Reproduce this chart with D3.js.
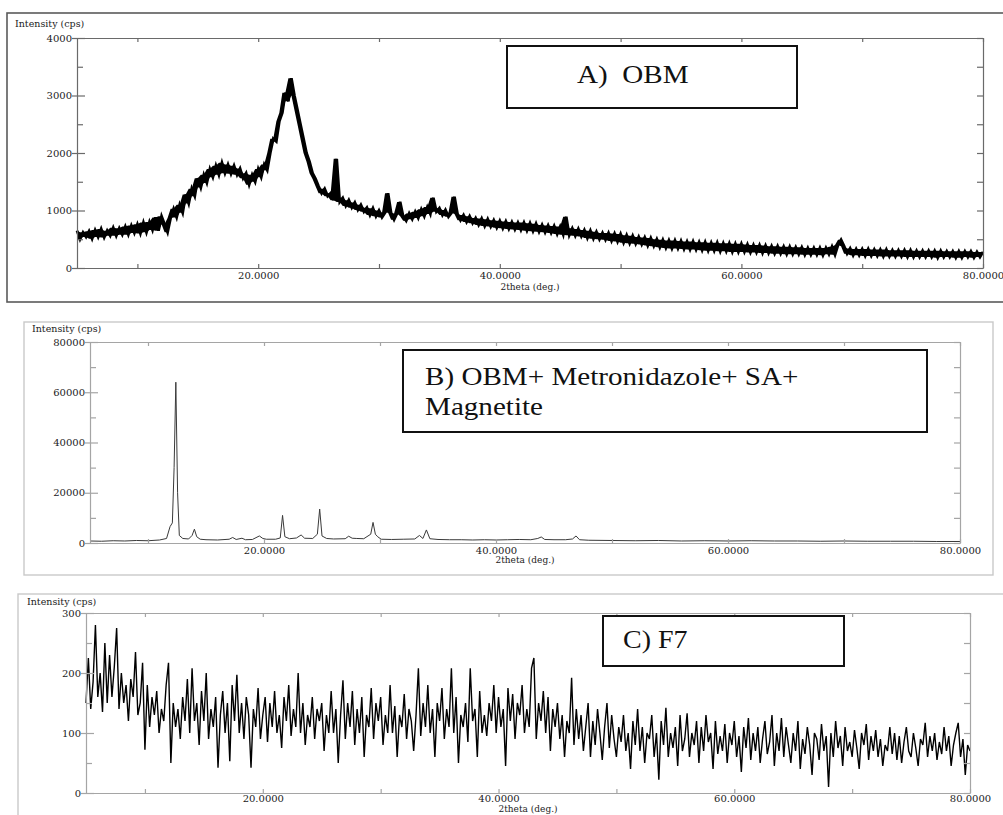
<!DOCTYPE html>
<html>
<head>
<meta charset="utf-8">
<script src="https://cdn.jsdelivr.net/npm/d3@7"></script>
<style>
  body { margin: 0; background: #fff; }
  svg { display: block; }
  text { white-space: pre; }
</style>
</head>
<body>
<svg id="chart"></svg>
<script>
const width = 1003;
const height = 815;

// shared x ticks (2theta, deg.)
const xDomain = [5, 80];
const xTicks = [10, 20, 30, 40, 50, 60, 70, 80];
const xLabeled = [20, 40, 60, 80];

// A) OBM  -- intensity sampled every 0.25 deg from 5 to 80
const obmStart = 5;
const obmStep = 0.25;
const obmIntensity = [
  650, 500, 620, 540,   640, 510, 660, 540,   680, 530, 650, 560,   700, 560, 690, 580,
  720, 580, 740, 610,   760, 600, 790, 620,   800, 660, 880, 650,   900, 760, 620, 870,
  1030, 880, 1100, 960, 1280, 1120, 1380, 1250, 1560, 1400, 1620, 1480, 1720, 1580, 1780, 1620,
  1830, 1650, 1800, 1640, 1780, 1620, 1730, 1560, 1650, 1450, 1620, 1500, 1720, 1580, 1800, 1700,
  2000, 2250, 2200, 2550, 2700, 3050, 2900, 3300, 3000, 2750, 2500, 2250, 2000, 1850, 1650, 1550,
  1420, 1300, 1380, 1250, 1300, 1180, 1900, 1150, 1220, 1080, 1180, 1050, 1140, 1010, 1100, 980,
  1050, 920, 1040, 900,  1000, 880, 960, 1300,  960, 840, 950, 1150,  900, 820, 950, 850,
  980, 870, 1020, 900,  1060, 940, 1220, 980,  1040, 920, 1010, 890,  960, 1240, 940, 830,
  920, 800, 900, 780,   870, 750, 860, 730,   850, 720, 830, 700,   820, 690, 810, 680,
  800, 670, 790, 660,   790, 650, 780, 640,   770, 630, 750, 620,   740, 610, 730, 590,
  720, 580, 890, 570,   690, 560, 680, 550,   660, 520, 650, 510,   630, 500, 610, 490,
  610, 470, 600, 460,   590, 440, 570, 430,   560, 420, 540, 410,   530, 390, 520, 380,
  500, 360, 490, 350,   480, 340, 480, 340,   470, 330, 460, 320,   460, 320, 450, 310,
  450, 300, 440, 300,   440, 290, 430, 290,   430, 280, 420, 280,   420, 280, 410, 270,
  400, 270, 400, 260,   390, 260, 380, 250,   380, 250, 370, 240,   370, 240, 360, 240,
  360, 230, 350, 230,   350, 230, 350, 220,   350, 240, 370, 230,   400, 490, 380, 250,
  340, 220, 330, 220,   330, 210, 330, 210,   320, 210, 320, 200,   320, 200, 310, 200,
  310, 200, 310, 190,   310, 190, 300, 190,   300, 190, 300, 190,   300, 180, 300, 190,
  290, 190, 290, 180,   290, 180, 290, 190,   290, 180, 280, 190,
  280
];
const obmYTicks = [0, 1000, 2000, 3000, 4000];
const obmYMinor = [500, 1500, 2500, 3500];

// B) OBM + Metronidazole + SA + Magnetite -- peak-resolved points
const mix2Theta = [
  5, 6, 7, 8, 9, 10, 11, 11.6, 11.9, 12.1, 12.25, 12.4, 12.55, 12.7, 13, 13.5, 13.8, 14, 14.2, 14.5,
  15, 16, 17, 17.3, 17.6, 18.1, 18.4, 19, 19.6, 19.9, 20.2, 21, 21.4, 21.6, 21.8, 22.2, 22.8, 23.2, 23.5,
  24.2, 24.6, 24.8, 25, 25.4, 26, 27, 27.3, 27.6, 28, 28.6, 29.2, 29.4, 29.6, 29.8, 30.1, 31, 32, 33,
  33.4, 33.7, 34, 34.3, 35, 36, 37, 38, 39, 40, 41, 42, 43, 43.6, 43.9, 44.2, 45, 46, 46.6, 46.9, 47.2,
  48, 50, 52, 54, 56, 58, 60, 62, 64, 66, 68, 70, 72, 74, 76, 78, 80
];
const mixIntensity = [
  800, 700, 900, 800, 1000, 900, 1200, 1800, 6500, 8000, 30000, 64000, 20000, 3000, 1800, 1600, 3000, 5500, 2500, 1500,
  1300, 1200, 1500, 2200, 1400, 1900, 1300, 1400, 2800, 1800, 1500, 1500, 2000, 11000, 2500, 1700, 2000, 3200, 1900,
  1800, 3500, 13500, 2800, 1800, 1600, 1700, 2700, 1900, 1800, 1700, 3500, 8200, 3500, 2500, 1500, 1400, 1500, 1600,
  3000, 1800, 5200, 1700, 1400, 1300, 1300, 1200, 1300, 1200, 1300, 1400, 1300, 1800, 2400, 1400, 1300, 1300, 1600, 2800, 1300,
  1100, 1000, 900, 1000, 800, 900, 800, 900, 800, 800, 700, 800, 700, 700, 700, 600, 600
];
const mixYTicks = [0, 20000, 40000, 60000, 80000];
const mixYMinor = [10000, 30000, 50000, 70000];

// C) F7 -- intensity sampled every 0.2 deg from 5 to 80
const f7Start = 5;
const f7Step = 0.2;
const f7Intensity = [
  150, 225, 140, 185, 280,  160, 200, 135, 250, 150,  230, 160, 210, 275, 140,  200, 150, 180, 120, 190,
  160, 235, 130, 150, 217,  72, 180, 110, 160, 130,   170, 100, 140, 120, 180,  217, 50, 150, 110, 140,
  90, 160, 120, 190, 100,   208, 120, 150, 80, 170,   120, 200, 90, 140, 110,   160, 42, 130, 170, 100,
  150, 53, 180, 120, 197,   100, 150, 90, 160, 130,   42, 140, 110, 175, 90,    130, 160, 85, 150, 110,
  170, 100, 130, 75, 160,   120, 180, 95, 140, 110,   200, 100, 150, 80, 130,   110, 160, 90, 140, 120,
  150, 70, 130, 100, 170,   100, 140, 50, 130, 188,   90, 150, 110, 170, 80,    140, 100, 160, 60, 130,
  110, 175, 90, 150, 120,   160, 80, 130, 100, 180,   100, 145, 60, 130, 110,   165, 90, 140, 120, 70,
  130, 208, 95, 150, 110,   180, 100, 140, 60, 150,   120, 175, 90, 140, 110,   208, 100, 160, 50, 130,
  110, 150, 85, 208, 120,   140, 60, 170, 100, 130,   95, 150, 120, 180, 100,   160, 110, 140, 45, 175,
  120, 165, 90, 150, 130,   180, 100, 140, 110, 208,  225, 90, 150, 120, 170,   100, 160, 70, 140, 110,
  150, 90, 130, 60, 120,    100, 192, 80, 140, 90,    130, 70, 110, 150, 60,    120, 80, 140, 100, 55,
  110, 150, 75, 130, 90,    60, 110, 85, 130, 70,     100, 40, 120, 80, 140,    70, 110, 50, 100, 90,
  130, 60, 100, 22, 120,    80, 142, 60, 100, 75,     110, 45, 130, 70, 90,     133, 60, 100, 80, 120,
  50, 110, 70, 130, 85,     100, 40, 120, 65, 95,     70, 115, 50, 100, 80,     120, 60, 95, 35, 110,
  75, 125, 55, 100, 70,     110, 50, 90, 120, 65,     85, 130, 45, 100, 70,     125, 60, 110, 80, 50,
  100, 70, 120, 40, 90,     65, 110, 80, 30, 100,     90, 55, 115, 70, 95,      10, 100, 60, 120, 75,
  95, 45, 110, 70, 85,      60, 105, 75, 40, 100,     80, 115, 55, 95, 70,      105, 60, 90, 45, 80,
  70, 110, 65, 100, 55,     95, 50, 85, 110, 70,      60, 100, 75, 45, 90,      80, 117, 60, 95, 70,
  100, 55, 85, 65, 110,     70, 95, 45, 80, 100,      117, 60, 90, 30, 80,
  70
];
const f7YTicks = [0, 100, 200, 300];
const f7YMinor = [50, 150, 250];

const panelLabels = {
  a: ["A)  OBM"],
  b: ["B) OBM+ Metronidazole+ SA+", "Magnetite"],
  c: ["C) F7"]
};

const yTitle = "Intensity (cps)";
const xTitle = "2theta (deg.)";

// layout of the three panels
const panels = [
  {
    frame: {x: 7, y: 13, w: 1020, h: 289, stroke: "#5a5a5a", sw: 1.6},
    plot: {left: 77, right: 983, top: 38, bottom: 268},
    axisColor: "#6a6a6a",
    points: obmIntensity.map((v, i) => [obmStart + i * obmStep, v]),
    band: true,
    yMax: 4000, yTicks: obmYTicks, yMinor: obmYMinor,
    line: {stroke: "#000", sw: 2.8},
    yTitlePos: [15, 27], xTitleY: 290, tickPad: 4,
    box: {x: 507, y: 46, w: 290, h: 62}, label: panelLabels.a, labelFont: 26,
    labelPos: [577, 83], lineGap: 30
  },
  {
    frame: {x: 24, y: 322, w: 969, h: 253, stroke: "#c9c9c9", sw: 1.4},
    plot: {left: 90, right: 960, top: 342, bottom: 543},
    axisColor: "#a5a5a5",
    points: mix2Theta.map((t, i) => [t, mixIntensity[i]]),
    band: false,
    yMax: 80000, yTicks: mixYTicks, yMinor: mixYMinor,
    line: {stroke: "#3a3a3a", sw: 1},
    yTitlePos: [32, 332], xTitleY: 563, tickPad: 4,
    box: {x: 403, y: 350, w: 524, h: 82}, label: panelLabels.b, labelFont: 26,
    labelPos: [425, 385], lineGap: 30
  },
  {
    frame: {x: 18, y: 594, w: 1010, h: 240, stroke: "#c9c9c9", sw: 1.4},
    plot: {left: 86, right: 970, top: 613, bottom: 793},
    axisColor: "#a5a5a5",
    points: f7Intensity.map((v, i) => [f7Start + i * f7Step, v]),
    band: false,
    yMax: 300, yTicks: f7YTicks, yMinor: f7YMinor,
    line: {stroke: "#000", sw: 1.4},
    yTitlePos: [27, 605], xTitleY: 812, tickPad: 2,
    box: {x: 603, y: 616, w: 241, h: 50}, label: panelLabels.c, labelFont: 25,
    labelPos: [623, 648], lineGap: 30
  }
];

const svg = d3.select("#chart")
  .attr("width", width)
  .attr("height", height);

const tickFont = "DejaVu Serif";
const labelFont = "Liberation Serif";

function drawPanel(p) {
  const g = svg.append("g");

  g.append("rect")
    .attr("x", p.frame.x).attr("y", p.frame.y)
    .attr("width", p.frame.w).attr("height", p.frame.h)
    .attr("fill", "none")
    .attr("stroke", p.frame.stroke)
    .attr("stroke-width", p.frame.sw);

  const x = d3.scaleLinear().domain(xDomain).range([p.plot.left, p.plot.right]);
  const y = d3.scaleLinear().domain([0, p.yMax]).range([p.plot.bottom, p.plot.top]);

  // noisy scans: fill the span each pair of neighbouring samples covers
  if (p.band) {
    const pts = p.points;
    const area = d3.area()
      .x(d => x(d[0]))
      .y0((d, i) => y(Math.min(d[1], (pts[i + 1] || d)[1])))
      .y1((d, i) => y(Math.max(d[1], (pts[i + 1] || d)[1])));
    g.append("path")
      .datum(pts)
      .attr("d", area)
      .attr("fill", p.line.stroke);
  }

  // data trace
  const line = d3.line().x(d => x(d[0])).y(d => y(d[1]));
  g.append("path")
    .datum(p.points)
    .attr("d", line)
    .attr("fill", "none")
    .attr("stroke", p.line.stroke)
    .attr("stroke-width", p.line.sw);

  const fmt = d3.format(".4f");

  const bottom = g.append("g")
    .attr("transform", `translate(0,${p.plot.bottom})`)
    .call(d3.axisBottom(x).tickValues(xTicks).tickSizeInner(-4).tickSizeOuter(0).tickPadding(p.tickPad)
      .tickFormat(d => xLabeled.includes(d) ? fmt(d) : ""));

  const top = g.append("g")
    .attr("transform", `translate(0,${p.plot.top})`)
    .call(d3.axisTop(x).tickValues(xTicks).tickSizeInner(-4).tickSizeOuter(0).tickFormat(""));

  const left = g.append("g")
    .attr("transform", `translate(${p.plot.left},0)`)
    .call(d3.axisLeft(y).tickValues(p.yTicks).tickSizeInner(5).tickSizeOuter(0).tickPadding(0)
      .tickFormat(d3.format("d")));
  left.selectAll(".tick line").attr("x2", -5).attr("x1", 8);

  const leftMinor = g.append("g")
    .attr("transform", `translate(${p.plot.left},0)`)
    .call(d3.axisLeft(y).tickValues(p.yMinor).tickSizeInner(-6).tickSizeOuter(0).tickFormat(""));
  leftMinor.select(".domain").remove();

  const right = g.append("g")
    .attr("transform", `translate(${p.plot.right},0)`)
    .call(d3.axisRight(y).tickValues(p.yTicks.concat(p.yMinor)).tickSizeInner(-6).tickSizeOuter(0).tickFormat(""));

  [bottom, top, left, leftMinor, right].forEach(a => {
    a.selectAll("path, line").attr("stroke", p.axisColor).attr("stroke-width", 1.2);
    a.selectAll("text")
      .attr("fill", "#222")
      .attr("font-family", tickFont)
      .attr("font-size", 10);
  });

  // axis titles
  g.append("text")
    .attr("x", p.yTitlePos[0]).attr("y", p.yTitlePos[1])
    .attr("font-family", tickFont).attr("font-size", 9.5)
    .attr("fill", "#222")
    .text(yTitle);

  g.append("text")
    .attr("x", (p.plot.left + p.plot.right) / 2).attr("y", p.xTitleY)
    .attr("text-anchor", "middle")
    .attr("font-family", tickFont).attr("font-size", 9)
    .attr("fill", "#222")
    .text(xTitle);

  // sample label box
  g.append("rect")
    .attr("x", p.box.x).attr("y", p.box.y)
    .attr("width", p.box.w).attr("height", p.box.h)
    .attr("fill", "#fff")
    .attr("stroke", "#111")
    .attr("stroke-width", 2);

  p.label.forEach((t, i) => {
    g.append("text")
      .attr("transform", `translate(${p.labelPos[0]},${p.labelPos[1] + i * p.lineGap}) scale(1.12,1)`)
      .attr("font-family", labelFont)
      .attr("font-size", p.labelFont)
      .attr("fill", "#111")
      .text(t);
  });
}

panels.forEach(drawPanel);
</script>
</body>
</html>
